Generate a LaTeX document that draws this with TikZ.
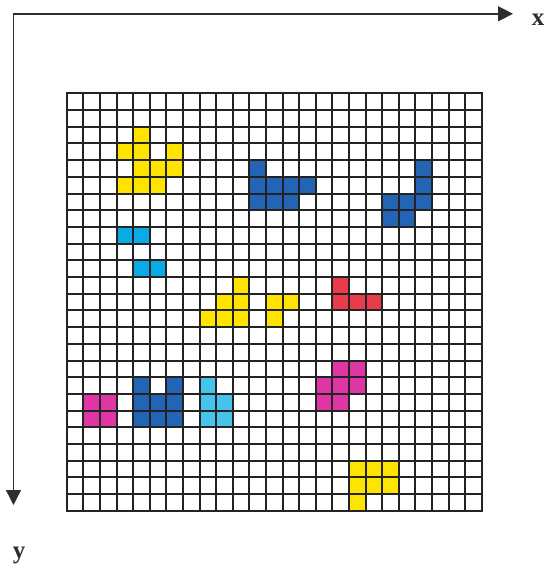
\documentclass[tikz,border=0pt]{standalone}
\usepackage{fontspec}
\setmainfont{Liberation Serif}
\usetikzlibrary{arrows.meta}

\definecolor{axisgray}{RGB}{45,45,45}
\definecolor{gridgray}{RGB}{35,35,35}
\definecolor{cellyellow}{RGB}{255,228,0}
\definecolor{cellblue}{RGB}{35,100,180}
\definecolor{cellcyan}{RGB}{10,170,230}
\definecolor{celllightcyan}{RGB}{70,195,235}
\definecolor{cellred}{RGB}{232,60,75}
\definecolor{cellmagenta}{RGB}{222,55,165}

\begin{document}
\begin{tikzpicture}[
		x=1pt, y=-1pt,
		axis/.style={
			draw=axisgray,
			line width=1.4pt,
			{Triangle[length=15pt,width=15pt]}-{Triangle[length=15pt,width=15pt]}
		},
		axislabel/.style={
			font=\fontsize{25}{25}\selectfont\bfseries,
			text=axisgray,
			inner sep=0pt
		},
		gridline/.style={draw=gridgray, line width=2pt},
		border/.style={draw=gridgray, line width=2.3pt}
		]
		
		% Picture frame
		\useasboundingbox (0,0) rectangle (546,568);
		
		% Axes
		\coordinate (orig) at (13.5,13.8);
		\coordinate (xend) at (513,13.8);
		\coordinate (yend) at (13.5,505);
		\node[axislabel] (xlab) at (538,20) {x};
		\node[axislabel] (ylab) at (19,555) {y};
		\draw[axis] (xend) -- (orig) -- (yend);
		
		% Raster, one unit = one cell
		\begin{scope}[shift={(66.7,93.3)}, x=16.6pt, y=-16.7pt]
			
			% Yellow cells
			\foreach \c/\r in {4/2,3/3,4/3,6/3,4/4,5/4,6/4,3/5,4/5,5/5,
				10/11,9/12,10/12,12/12,13/12,8/13,9/13,10/13,12/13,
				17/22,18/22,19/22,17/23,18/23,19/23,17/24}
			\fill[cellyellow] (\c,\r) rectangle ++(1,1);
			
			% Blue cells
			\foreach \c/\r in {11/4,11/5,12/5,13/5,14/5,11/6,12/6,13/6,
				21/4,21/5,19/6,20/6,21/6,19/7,20/7,
				4/17,6/17,4/18,5/18,6/18,4/19,5/19,6/19}
			\fill[cellblue] (\c,\r) rectangle ++(1,1);
			
			% Cyan cells
			\foreach \c/\r in {3/8,4/8,4/10,5/10}
			\fill[cellcyan] (\c,\r) rectangle ++(1,1);
			\foreach \c/\r in {8/17,8/18,9/18,8/19,9/19}
			\fill[celllightcyan] (\c,\r) rectangle ++(1,1);
			
			% Red cells
			\foreach \c/\r in {16/11,16/12,17/12,18/12}
			\fill[cellred] (\c,\r) rectangle ++(1,1);
			
			% Magenta cells
			\foreach \c/\r in {16/16,17/16,15/17,16/17,17/17,15/18,16/18,
				1/18,2/18,1/19,2/19}
			\fill[cellmagenta] (\c,\r) rectangle ++(1,1);
			
			% Grid lines
			\foreach \i in {1,...,24} {
				\draw[gridline] (\i,0) -- (\i,25);
				\draw[gridline] (0,\i) -- (25,\i);
			}
			\draw[border] (0,0) rectangle (25,25);
		\end{scope}
		
	\end{tikzpicture}
\end{document}
